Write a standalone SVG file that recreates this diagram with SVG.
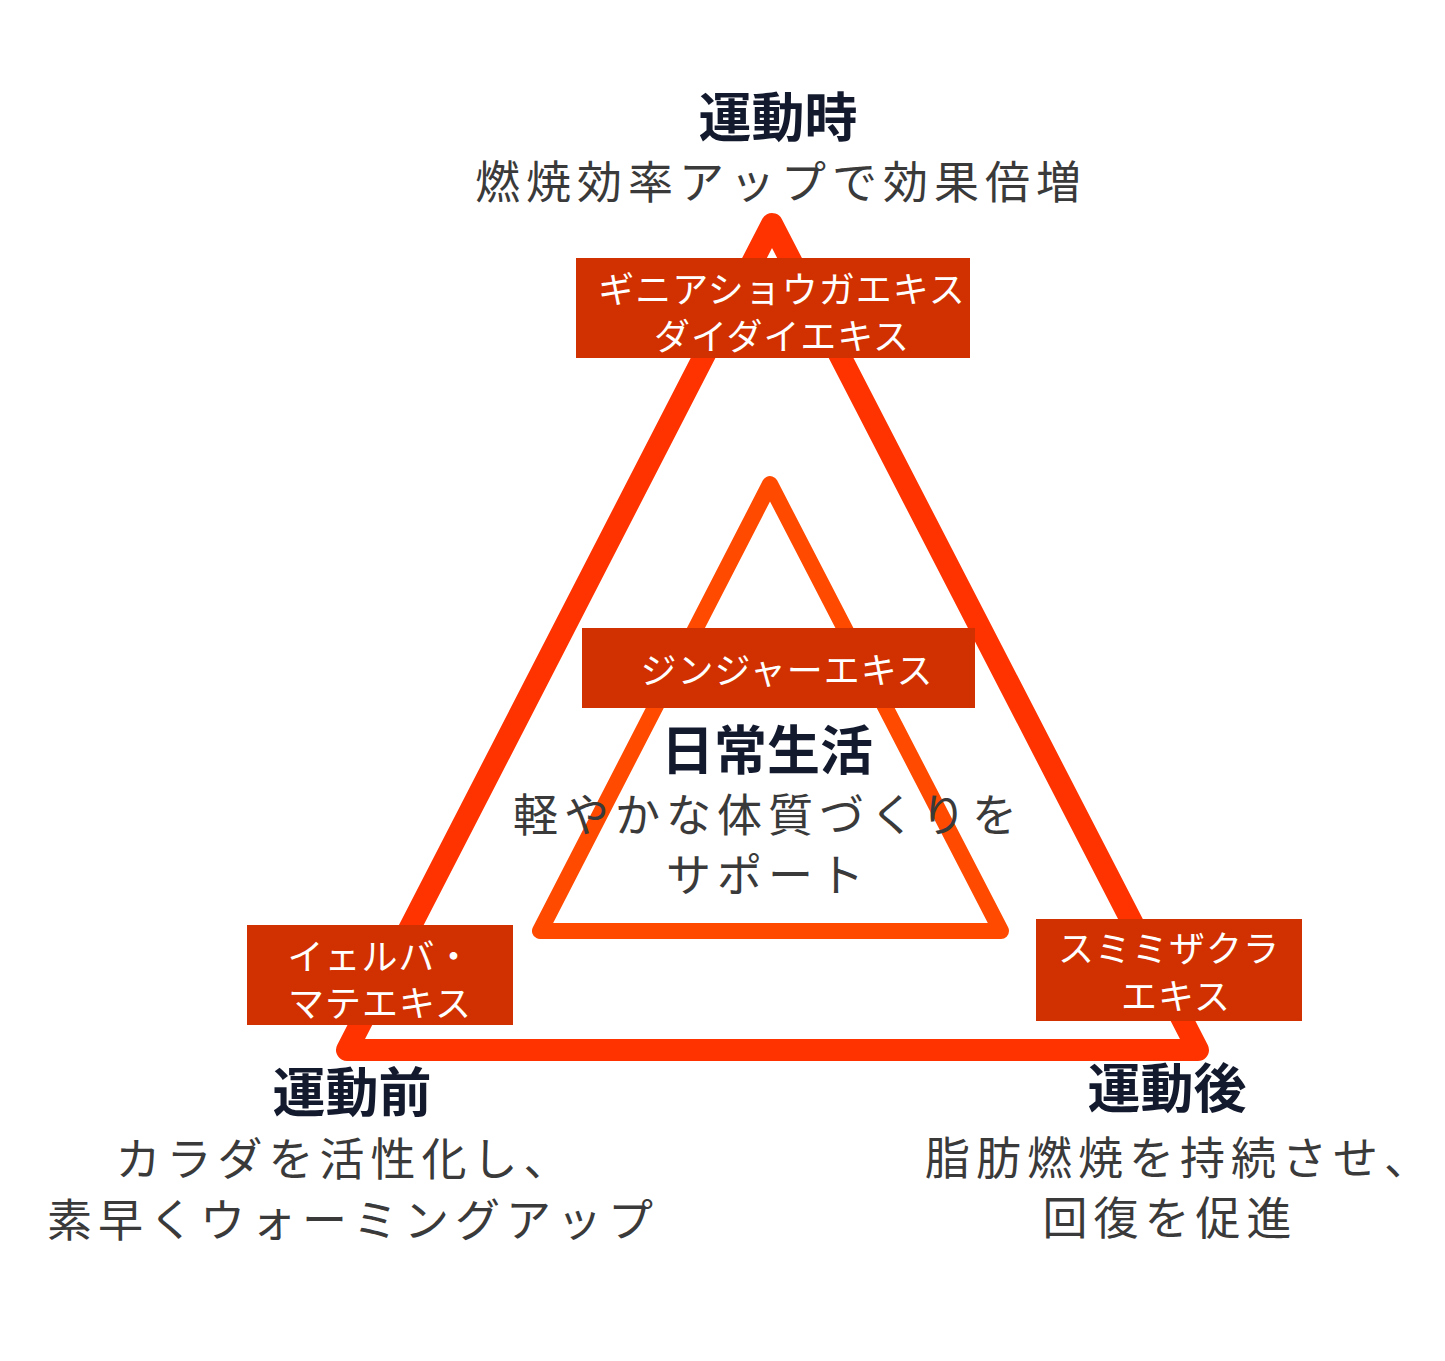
<svg xmlns="http://www.w3.org/2000/svg" width="1445" height="1361" viewBox="0 0 1445 1361">
<style>
.t{font-family:"Noto Sans CJK JP","Noto Sans",sans-serif;text-anchor:middle}
.h{font-size:53px;font-weight:bold;fill:#141a2e}
.s{font-size:45px;fill:#3a3a3a;letter-spacing:6px}
.b{font-size:36px;fill:#fff;letter-spacing:1px}
.box{fill:#d13100}
</style>
<rect width="1445" height="1361" fill="#fff"/>
<g id="connectors">
<polygon points="772,224 347,1050 1198,1050" fill="none" stroke="#ff3300" stroke-width="22" stroke-linejoin="round"/>
<polygon points="770,484 540,931 1001,931" fill="none" stroke="#ff4a00" stroke-width="16" stroke-linejoin="round"/>
</g>
<g id="top"><text class="t h" x="778" y="137">運動時</text><text class="t s" x="781" y="199">燃焼効率アップで効果倍増</text></g>
<g id="center"><text class="t h" x="767" y="770">日常生活</text><text class="t s" x="768" y="832">軽やかな体質づくりを</text><text class="t s" x="768" y="892">サポート</text></g>
<g id="left"><text class="t h" x="352" y="1112">運動前</text><text class="t s" x="345" y="1176">カラダを活性化し、</text><text class="t s" x="353" y="1237">素早くウォーミングアップ</text></g>
<g id="right"><text class="t h" x="1167" y="1108">運動後</text><text class="t s" x="1180" y="1175">脂肪燃焼を持続させ、</text><text class="t s" x="1170" y="1235">回復を促進</text></g>
<g id="box1"><rect class="box" x="576" y="258" width="394" height="100"/><text class="t b" x="782" y="303">ギニアショウガエキス</text><text class="t b" x="782" y="350">ダイダイエキス</text></g>
<g id="box2"><rect class="box" x="582" y="628" width="393" height="80"/><text class="t b" x="787" y="684">ジンジャーエキス</text></g>
<g id="box3"><rect class="box" x="247" y="925" width="266" height="100"/><text class="t b" x="380" y="970">イェルバ・</text><text class="t b" x="380" y="1017">マテエキス</text></g>
<g id="box4"><rect class="box" x="1036" y="919" width="266" height="102"/><text class="t b" x="1169" y="962">スミミザクラ</text><text class="t b" x="1176" y="1010">エキス</text></g>
</svg>
